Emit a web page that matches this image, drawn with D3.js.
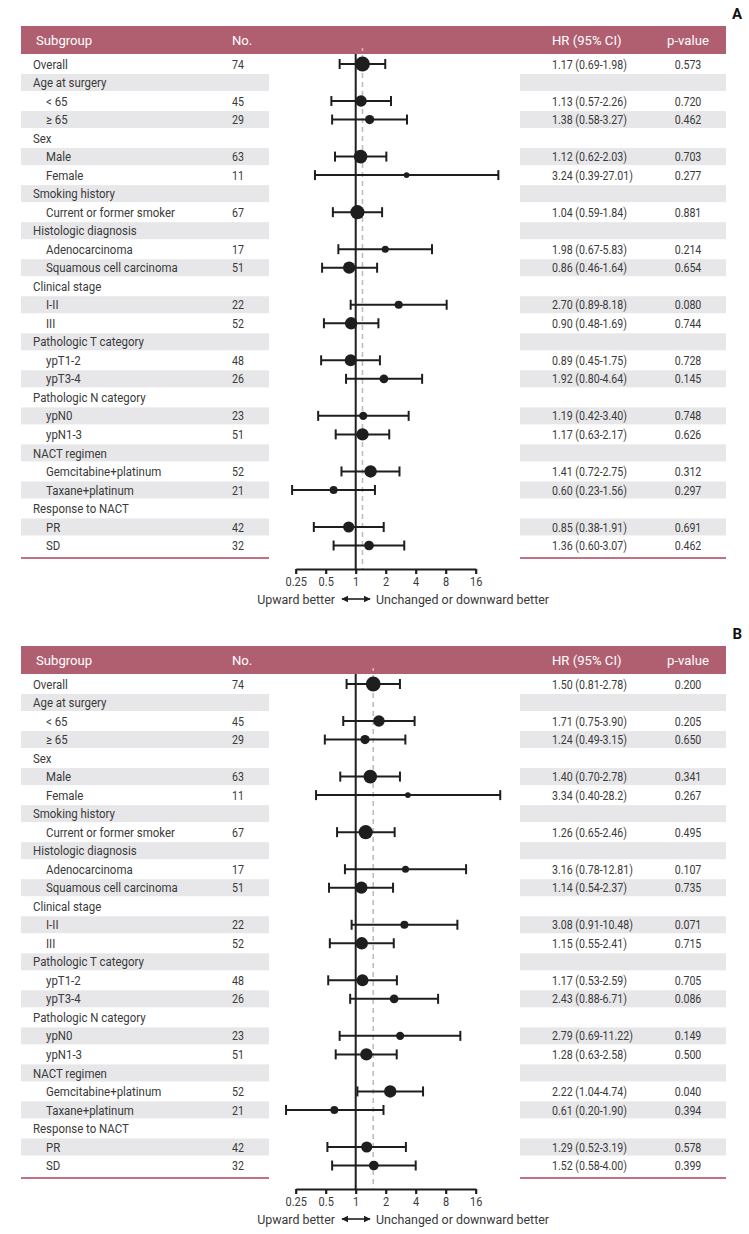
<!DOCTYPE html>
<html><head><meta charset="utf-8">
<script src="https://cdn.jsdelivr.net/npm/d3@7"></script>
<style>
html,body{margin:0;padding:0;background:#fff;}
svg text{font-family:Roboto,"Liberation Sans",sans-serif;}
</style></head>
<body>
<svg id="chart" width="749" height="1234"></svg>
<script>
const rowLabels = ["Overall","Age at surgery","< 65","≥ 65","Sex","Male","Female","Smoking history","Current or former smoker","Histologic diagnosis","Adenocarcinoma","Squamous cell carcinoma","Clinical stage","I-II","III","Pathologic T category","ypT1-2","ypT3-4","Pathologic N category","ypN0","ypN1-3","NACT regimen","Gemcitabine+platinum","Taxane+platinum","Response to NACT","PR","SD"];
const rowIndent = [0,0,1,1,0,1,1,0,1,0,1,1,0,1,1,0,1,1,0,1,1,0,1,1,0,1,1];
const counts = [74,null,45,29,null,63,11,null,67,null,17,51,null,22,52,null,48,26,null,23,51,null,52,21,null,42,32];

const hrA = [1.17,null,1.13,1.38,null,1.12,3.24,null,1.04,null,1.98,0.86,null,2.70,0.90,null,0.89,1.92,null,1.19,1.17,null,1.41,0.60,null,0.85,1.36];
const loA = [0.69,null,0.57,0.58,null,0.62,0.39,null,0.59,null,0.67,0.46,null,0.89,0.48,null,0.45,0.80,null,0.42,0.63,null,0.72,0.23,null,0.38,0.60];
const hiA = [1.98,null,2.26,3.27,null,2.03,27.01,null,1.84,null,5.83,1.64,null,8.18,1.69,null,1.75,4.64,null,3.40,2.17,null,2.75,1.56,null,1.91,3.07];
const ciTextA = ["1.17 (0.69-1.98)","","1.13 (0.57-2.26)","1.38 (0.58-3.27)","","1.12 (0.62-2.03)","3.24 (0.39-27.01)","","1.04 (0.59-1.84)","","1.98 (0.67-5.83)","0.86 (0.46-1.64)","","2.70 (0.89-8.18)","0.90 (0.48-1.69)","","0.89 (0.45-1.75)","1.92 (0.80-4.64)","","1.19 (0.42-3.40)","1.17 (0.63-2.17)","","1.41 (0.72-2.75)","0.60 (0.23-1.56)","","0.85 (0.38-1.91)","1.36 (0.60-3.07)"];
const pA = ["0.573","","0.720","0.462","","0.703","0.277","","0.881","","0.214","0.654","","0.080","0.744","","0.728","0.145","","0.748","0.626","","0.312","0.297","","0.691","0.462"];

const hrB = [1.50,null,1.71,1.24,null,1.40,3.34,null,1.26,null,3.16,1.14,null,3.08,1.15,null,1.17,2.43,null,2.79,1.28,null,2.22,0.61,null,1.29,1.52];
const loB = [0.81,null,0.75,0.49,null,0.70,0.40,null,0.65,null,0.78,0.54,null,0.91,0.55,null,0.53,0.88,null,0.69,0.63,null,1.04,0.20,null,0.52,0.58];
const hiB = [2.78,null,3.90,3.15,null,2.78,28.2,null,2.46,null,12.81,2.37,null,10.48,2.41,null,2.59,6.71,null,11.22,2.58,null,4.74,1.90,null,3.19,4.00];
const ciTextB = ["1.50 (0.81-2.78)","","1.71 (0.75-3.90)","1.24 (0.49-3.15)","","1.40 (0.70-2.78)","3.34 (0.40-28.2)","","1.26 (0.65-2.46)","","3.16 (0.78-12.81)","1.14 (0.54-2.37)","","3.08 (0.91-10.48)","1.15 (0.55-2.41)","","1.17 (0.53-2.59)","2.43 (0.88-6.71)","","2.79 (0.69-11.22)","1.28 (0.63-2.58)","","2.22 (1.04-4.74)","0.61 (0.20-1.90)","","1.29 (0.52-3.19)","1.52 (0.58-4.00)"];
const pB = ["0.200","","0.205","0.650","","0.341","0.267","","0.495","","0.107","0.735","","0.071","0.715","","0.705","0.086","","0.149","0.500","","0.040","0.394","","0.578","0.399"];

const tickValues = [0.25,0.5,1,2,4,8,16];
const tickLabels = ["0.25","0.5","1","2","4","8","16"];
const headers = ["Subgroup","No.","HR (95% CI)","p-value"];
const legendLeft = "Upward better";
const legendRight = "Unchanged or downward better";

const svg = d3.select("#chart");
const HEAD = "#b05f71", GRAY = "#e7e7e9", LINE = "#c07283", TXT = "#3a3a3a", MARK = "#1e1e1e";
const FS = 12.8, FSH = 13.6, FSL = 13.2;

// horizontal compression to imitate the condensed face of the original
function fit(str, size, target) {
  const p = svg.append("text").attr("font-size",size).text(str);
  const w = p.node().getComputedTextLength(); p.remove();
  return Math.min(1.05, target / w);
}
const SX = fit("Current or former smoker", FS, 129);
const SXN = fit("1.17 (0.69-1.98)", FS, 75);
const SXH = (fit("HR (95% CI)", FSH, 70) + fit("Subgroup", FSH, 56)) / 2;
const SXL = fit("Unchanged or downward better", FSL, 173);
const tf = (x,y,s) => `translate(${x},${y}) scale(${s||SX},1)`;

const defs = svg.append("defs");
defs.append("marker").attr("id","arrowEnd").attr("viewBox","0 0 10 10").attr("refX",9).attr("refY",5)
  .attr("markerWidth",4.5).attr("markerHeight",4.5).attr("orient","auto-start-reverse")
  .append("path").attr("d","M0,0 L10,5 L0,10 z").attr("fill",MARK);

const x = d3.scaleLog().base(2).domain([0.25,16]).range([295.7,475.7]);
const r = d3.scaleSqrt().domain([0,74]).range([0,7.4]);

function panel(top, label, hr, lo, hi, ciText, pv) {
  const g = svg.append("g").attr("transform",`translate(0,${top})`);
  const y = d3.scalePoint().domain(d3.range(rowLabels.length)).range([38, 519.5]);
  const L = 21, R = 726, leftEnd = 269, rightStart = 520;

  g.append("text").attr("x",742).attr("y",-7).attr("text-anchor","end")
    .attr("font-size",15).attr("font-weight","bold").attr("fill","#111").text(label);

  // header band
  g.append("rect").attr("x",L).attr("y",0).attr("width",R-L).attr("height",28).attr("fill",HEAD);
  const hx = [36,232,552,688], ha = ["start","start","start","middle"];
  headers.forEach((h,i)=>{
    g.append("text").attr("transform",tf(hx[i],19,SXH)).attr("text-anchor",ha[i])
      .attr("font-size",FSH).attr("fill","#fff").text(h);
  });

  // stripes
  const stripes = d3.range(rowLabels.length).filter(i=>i%2===1);
  g.selectAll(".sl").data(stripes).join("rect").attr("x",L).attr("y",i=>y(i)-8.5)
    .attr("width",leftEnd-L).attr("height",17).attr("fill",GRAY);
  g.selectAll(".sr").data(stripes).join("rect").attr("x",rightStart).attr("y",i=>y(i)-8.5)
    .attr("width",R-rightStart).attr("height",17).attr("fill",GRAY);

  // bottom lines
  const yb = y(rowLabels.length-1)+12.5;
  g.append("line").attr("x1",L).attr("x2",leftEnd).attr("y1",yb).attr("y2",yb).attr("stroke",LINE).attr("stroke-width",2);
  g.append("line").attr("x1",rightStart).attr("x2",R).attr("y1",yb).attr("y2",yb).attr("stroke",LINE).attr("stroke-width",2);

  // text columns
  const rows = d3.range(rowLabels.length);
  g.selectAll(".lab").data(rows).join("text").attr("transform",i=>tf(rowIndent[i]?46:33, y(i)+4.6))
    .attr("font-size",FS).attr("fill",TXT).text(i=>rowLabels[i]);
  g.selectAll(".n").data(rows.filter(i=>counts[i]!=null)).join("text").attr("transform",i=>tf(232, y(i)+4.6, SXN))
    .attr("font-size",FS).attr("fill",TXT).text(i=>counts[i]);
  g.selectAll(".ci").data(rows).join("text").attr("transform",i=>tf(552, y(i)+4.6, SXN))
    .attr("font-size",FS).attr("fill",TXT).text(i=>ciText[i]);
  g.selectAll(".pv").data(rows).join("text").attr("transform",i=>tf(688, y(i)+4.6, SXN)).attr("text-anchor","middle")
    .attr("font-size",FS).attr("fill",TXT).text(i=>pv[i]);

  const axisY = 543;
  // reference lines
  g.append("line").attr("x1",x(hr[0])).attr("x2",x(hr[0])).attr("y1",29).attr("y2",axisY)
    .attr("stroke","#bdbdbd").attr("stroke-width",1.6).attr("stroke-dasharray","5,4");
  g.append("rect").attr("x",x(hr[0])-0.8).attr("y",22).attr("width",1.6).attr("height",3).attr("fill","#d9b3bd");
  g.append("line").attr("x1",x(1)).attr("x2",x(1)).attr("y1",28).attr("y2",axisY)
    .attr("stroke",MARK).attr("stroke-width",2);

  // error bars
  const pts = rows.filter(i=>hr[i]!=null);
  const eb = g.selectAll(".eb").data(pts).join("g");
  eb.append("line").attr("x1",i=>x(lo[i])).attr("x2",i=>x(hi[i])).attr("y1",i=>y(i)).attr("y2",i=>y(i))
    .attr("stroke",MARK).attr("stroke-width",2);
  eb.append("line").attr("x1",i=>x(lo[i])).attr("x2",i=>x(lo[i])).attr("y1",i=>y(i)-5).attr("y2",i=>y(i)+5)
    .attr("stroke",MARK).attr("stroke-width",2);
  eb.append("line").attr("x1",i=>x(hi[i])).attr("x2",i=>x(hi[i])).attr("y1",i=>y(i)-5).attr("y2",i=>y(i)+5)
    .attr("stroke",MARK).attr("stroke-width",2);
  eb.append("circle").attr("cx",i=>x(hr[i])).attr("cy",i=>y(i)).attr("r",i=>r(counts[i])).attr("fill",MARK);

  // axis
  const ax = g.append("g").attr("transform",`translate(0,${axisY})`)
    .call(d3.axisBottom(x).tickValues(tickValues).tickFormat((d,i)=>tickLabels[i]).tickSize(5).tickSizeOuter(0));
  ax.select(".domain").attr("stroke",MARK).attr("stroke-width",2.2);
  ax.selectAll(".tick line").attr("stroke",MARK).attr("stroke-width",2.2);
  ax.selectAll(".tick text").attr("font-size",FSL).attr("fill",TXT).attr("y",0).attr("dy",null)
    .attr("transform",tf(0,17,SXN)).style("font-family","Roboto,sans-serif");

  // legend
  const ly = 573;
  g.append("text").attr("transform",tf(335,ly+4.6,SXL)).attr("text-anchor","end").attr("font-size",FSL).attr("fill",TXT).text(legendLeft);
  g.append("line").attr("x1",342).attr("x2",370).attr("y1",ly).attr("y2",ly).attr("stroke",MARK).attr("stroke-width",1.6)
    .attr("marker-start","url(#arrowEnd)").attr("marker-end","url(#arrowEnd)");
  g.append("text").attr("transform",tf(376,ly+4.6,SXL)).attr("font-size",FSL).attr("fill",TXT).text(legendRight);
}

panel(26, "A", hrA, loA, hiA, ciTextA, pA);
panel(646, "B", hrB, loB, hiB, ciTextB, pB);
</script>
</body></html>
